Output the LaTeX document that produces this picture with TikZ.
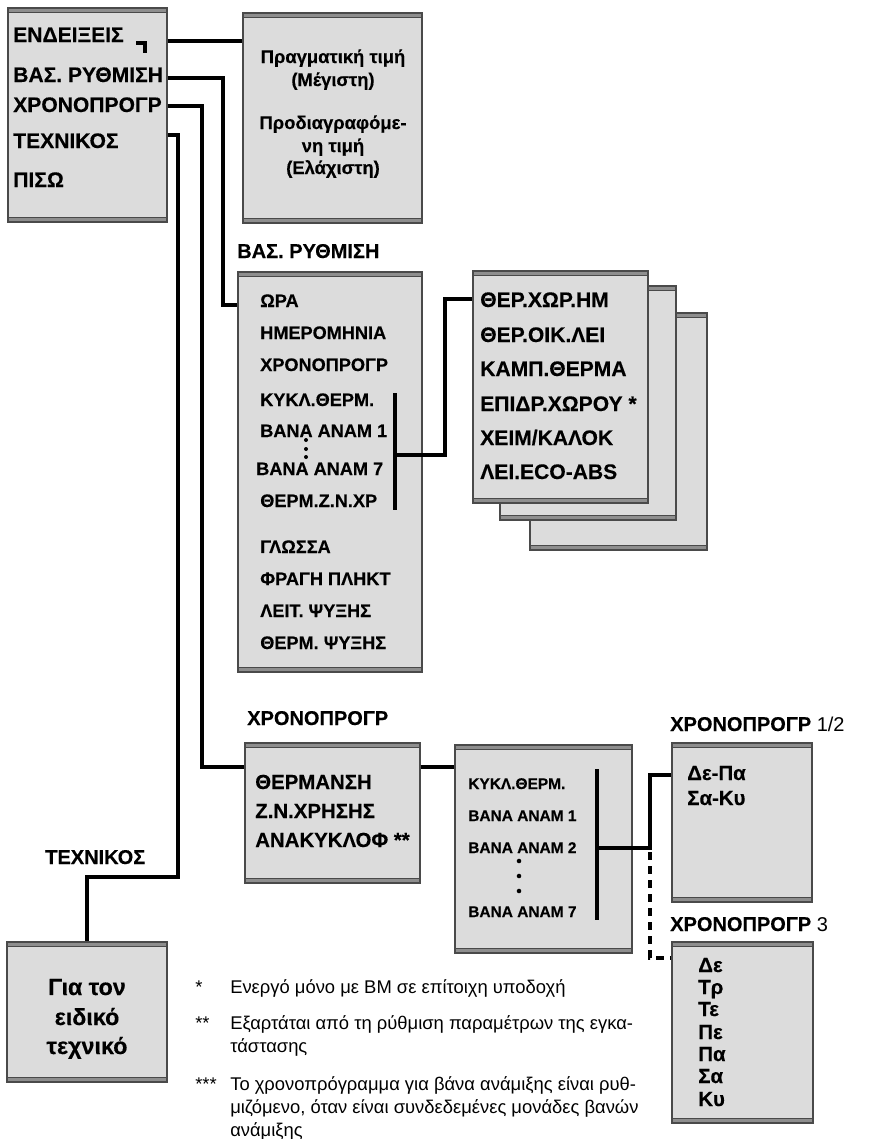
\documentclass[tikz,border=0pt]{standalone}
\usepackage{fontspec}
\setmainfont{Liberation Sans}[BoldFeatures={FakeBold=0.3}]
\usetikzlibrary{fit}
\pgfdeclarelayer{bg}
\pgfsetlayers{bg,main}

\definecolor{boxfill}{HTML}{DCDCDC}
\definecolor{boxedge}{HTML}{4A4A4A}
\definecolor{boxband}{HTML}{8E8E8E}
\definecolor{sidefill}{HTML}{C8C8C8}
\definecolor{sideline}{HTML}{7C7C7C}

\tikzset{
  gbox/.style={draw=boxedge, fill=boxfill, line width=0.8pt, inner sep=0pt,
    path picture={
      \fill[boxband] (path picture bounding box.north west) rectangle ([yshift=-3.5pt]path picture bounding box.north east);
      \draw[boxedge,line width=0.5pt] ([yshift=-3.5pt]path picture bounding box.north west) -- ([yshift=-3.5pt]path picture bounding box.north east);
      \fill[boxband] (path picture bounding box.south west) rectangle ([yshift=3.5pt]path picture bounding box.south east);
      \draw[boxedge,line width=0.5pt] ([yshift=3.5pt]path picture bounding box.south west) -- ([yshift=3.5pt]path picture bounding box.south east);
    }},
  wire/.style={line width=3pt, line join=miter},
  dotmark/.style={circle, fill=black, inner sep=0pt, minimum size=3.2pt},
  txt/.style={anchor=base west, inner sep=0pt},
  fmain/.style={txt, font=\bfseries\fontsize{15.8pt}{18pt}\selectfont},
  flabel/.style={txt, font=\bfseries\fontsize{15pt}{18pt}\selectfont},
  fval/.style={anchor=base, inner sep=0pt, font=\bfseries\fontsize{13.8pt}{17pt}\selectfont},
  fbase/.style={txt, font=\bfseries\fontsize{13.6pt}{16pt}\selectfont},
  fcirc/.style={txt, font=\bfseries\fontsize{15.8pt}{18pt}\selectfont},
  fheat/.style={txt, font=\bfseries\fontsize{15.3pt}{18pt}\selectfont},
  fsmall/.style={txt, font=\bfseries\fontsize{11.6pt}{14pt}\selectfont},
  ftech/.style={anchor=base, inner sep=0pt, font=\bfseries\fontsize{17.5pt}{21pt}\selectfont},
  fnote/.style={txt, font=\fontsize{13.8pt}{16pt}\selectfont},
}

% soft rounded side strips of a panel
\newcommand\panelsides[1]{%
  \begin{pgfonlayer}{bg}
    \fill[sidefill] ([yshift=-10pt]#1.north east) .. controls ([xshift=8pt]#1.east) .. ([yshift=10pt]#1.south east) -- cycle;
    \draw[sideline, line width=0.9pt] ([yshift=-10pt]#1.north east) .. controls ([xshift=8pt]#1.east) .. ([yshift=10pt]#1.south east);
    \fill[sidefill] ([yshift=-10pt]#1.north west) .. controls ([xshift=-8pt]#1.west) .. ([yshift=10pt]#1.south west) -- cycle;
    \draw[sideline, line width=0.9pt] ([yshift=-10pt]#1.north west) .. controls ([xshift=-8pt]#1.west) .. ([yshift=10pt]#1.south west);
  \end{pgfonlayer}}

\begin{document}
\begin{tikzpicture}[x=0.75pt, y=-0.75pt]
\useasboundingbox[fill=white] (0,0) rectangle (869,1139);

% ---------- panels ----------
\node[gbox, fit={(8,8) (167,222)}] (b1) {};
\node[gbox, fit={(243,13) (422,223)}] (b2) {};
\node[gbox, fit={(238,272) (422,672)}] (b3) {};
\node[gbox, fit={(530,313) (707,550)}] (b4c) {};
\node[gbox, fit={(500,286) (676,520)}] (b4b) {};
\node[gbox, fit={(473,271) (648,503)}] (b4) {};
\node[gbox, fit={(245,743) (420,883)}] (b5) {};
\node[gbox, fit={(455,745) (632,953)}] (b6) {};
\node[gbox, fit={(672,743) (812,902)}] (b7) {};
\node[gbox, fit={(672,942) (813,1123)}] (b8) {};
\node[gbox, fit={(7,942) (167,1082)}] (b9) {};
\foreach \b in {b1,b2,b3,b4,b4b,b4c,b5,b6,b7,b8,b9} {\panelsides{\b}}

% ---------- main menu ----------
\foreach \t/\y [count=\i] in {ΕΝΔΕΙΞΕΙΣ/42, ΒΑΣ. ΡΥΘΜΙΣΗ/82, ΧΡΟΝΟΠΡΟΓΡ/112, ΤΕΧΝΙΚΟΣ/148, ΠΙΣΩ/187}
  \node[fmain] (m\i) at (13,\y) {\t};
% enter symbol
\draw[line width=3pt, line join=miter] (136,43) -- (145,43) -- (145,53);

% ---------- value panel ----------
\foreach \t/\y [count=\i] in {Πραγματική τιμή/63, (Μέγιστη)/86, Προδιαγραφόμε-/129, νη τιμή/152, (Ελάχιστη)/174}
  \node[fval] (v\i) at (333,\y) {\t};

% ---------- basic settings ----------
\node[flabel] (lbase) at (237,258) {ΒΑΣ. ΡΥΘΜΙΣΗ};
\foreach \t/\x/\y [count=\i] in {ΩΡΑ/260/307, ΗΜΕΡΟΜΗΝΙΑ/260/339, ΧΡΟΝΟΠΡΟΓΡ/260/371,
  ΚΥΚΛ.ΘΕΡΜ./260/406, ΒΑΝΑ ΑΝΑΜ 1/260/437, ΒΑΝΑ ΑΝΑΜ 7/256/475, ΘΕΡΜ.Ζ.Ν.ΧΡ/260/507,
  ΓΛΩΣΣΑ/260/553, ΦΡΑΓΗ ΠΛΗΚΤ/260/585, ΛΕΙΤ. ΨΥΞΗΣ/260/617, ΘΕΡΜ. ΨΥΞΗΣ/260/649}
  \node[fbase] (s\i) at (\x,\y) {\t};
\foreach \y [count=\i] in {440,449,457} \node[dotmark, minimum size=3pt] (sd\i) at (306,\y) {};

% ---------- heating circuit panel ----------
\foreach \t/\y [count=\i] in {ΘΕΡ.ΧΩΡ.ΗΜ/307, ΘΕΡ.ΟΙΚ.ΛΕΙ/342, ΚΑΜΠ.ΘΕΡΜΑ/376, ΕΠΙΔΡ.ΧΩΡΟΥ */411, {ΧΕΙΜ/ΚΑΛΟΚ}/445, ΛΕΙ.ECO-ABS/479}
  \node[fcirc] (h\i) at (480,\y) {\t};

% ---------- time programs ----------
\node[flabel] (ltime) at (247,725) {ΧΡΟΝΟΠΡΟΓΡ};
\foreach \t/\y [count=\i] in {ΘΕΡΜΑΝΣΗ/789, Ζ.Ν.ΧΡΗΣΗΣ/818, ΑΝΑΚΥΚΛΟΦ **/847}
  \node[fheat] (p\i) at (255,\y) {\t};
\foreach \t/\y [count=\i] in {ΚΥΚΛ.ΘΕΡΜ./789, ΒΑΝΑ ΑΝΑΜ 1/821, ΒΑΝΑ ΑΝΑΜ 2/853, ΒΑΝΑ ΑΝΑΜ 7/917}
  \node[fsmall] (c\i) at (468,\y) {\t};
\foreach \y [count=\i] in {861,876,891} \node[dotmark, minimum size=3.4pt] (cd\i) at (519,\y) {};

\node[flabel] (lprog) at (670,731) {ΧΡΟΝΟΠΡΟΓΡ\mdseries\ 1/2};
\foreach \t/\y [count=\i] in {Δε-Πα/780, Σα-Κυ/805}
  \node[fheat] (w\i) at (687,\y) {\t};
\node[flabel] (lday) at (670,931) {ΧΡΟΝΟΠΡΟΓΡ\mdseries\ 3};
\foreach \t/\y [count=\i] in {Δε/972, Τρ/994, Τε/1016, Πε/1039, Πα/1061, Σα/1083, Κυ/1106}
  \node[fheat] (d\i) at (698,\y) {\t};

% ---------- technician ----------
\node[flabel] (ltech) at (45,864) {ΤΕΧΝΙΚΟΣ};
\foreach \t/\y [count=\i] in {Για τον/995, ειδικό/1025, τεχνικό/1054}
  \node[ftech] (g\i) at (87,\y) {\t};

% ---------- connectors ----------
\draw[wire] (b1.east |- 0,41) -- (b2.west |- 0,41);
\draw[wire] (b1.east |- 0,78) -| (223,305) -- (b3.west |- 0,305);
\draw[wire] (b1.east |- 0,106) -| (202,767) -- (b5.west |- 0,767);
\draw[wire] (b1.east |- 0,135) -| (178,877) -| (b9.north);
\draw[wire] (395,393) -- (395,510);
\draw[wire] (395,455) -| (445,299) -- (b4.west |- 0,299);
\draw[wire] (b5.east |- 0,767) -- (b6.west |- 0,767);
\draw[wire] (597,769) -- (597,920);
\draw[wire] (597,848) -| (650,775) -- (b7.west |- 0,775);
\draw[wire, dash pattern=on 6pt off 4.5pt] (650,852) |- (b8.west |- 0,958);

% ---------- footnotes ----------
\node[fnote] (n1) at (195,993) {*};
\node[fnote] (n1t) at (230,993) {Ενεργό μόνο με ΒΜ σε επίτοιχη υποδοχή};
\node[fnote] (n2) at (195,1029) {**};
\node[fnote] (n2t) at (230,1029) {Εξαρτάται από τη ρύθμιση παραμέτρων της εγκα-};
\node[fnote] (n2u) at (230,1052) {τάστασης};
\node[fnote] (n3) at (195,1090) {***};
\node[fnote] (n3t) at (230,1090) {Το χρονοπρόγραμμα για βάνα ανάμιξης είναι ρυθ-};
\node[fnote] (n3u) at (230,1113) {μιζόμενο, όταν είναι συνδεδεμένες μονάδες βανών};
\node[fnote] (n3v) at (230,1136) {ανάμιξης};
\end{tikzpicture}
\end{document}
